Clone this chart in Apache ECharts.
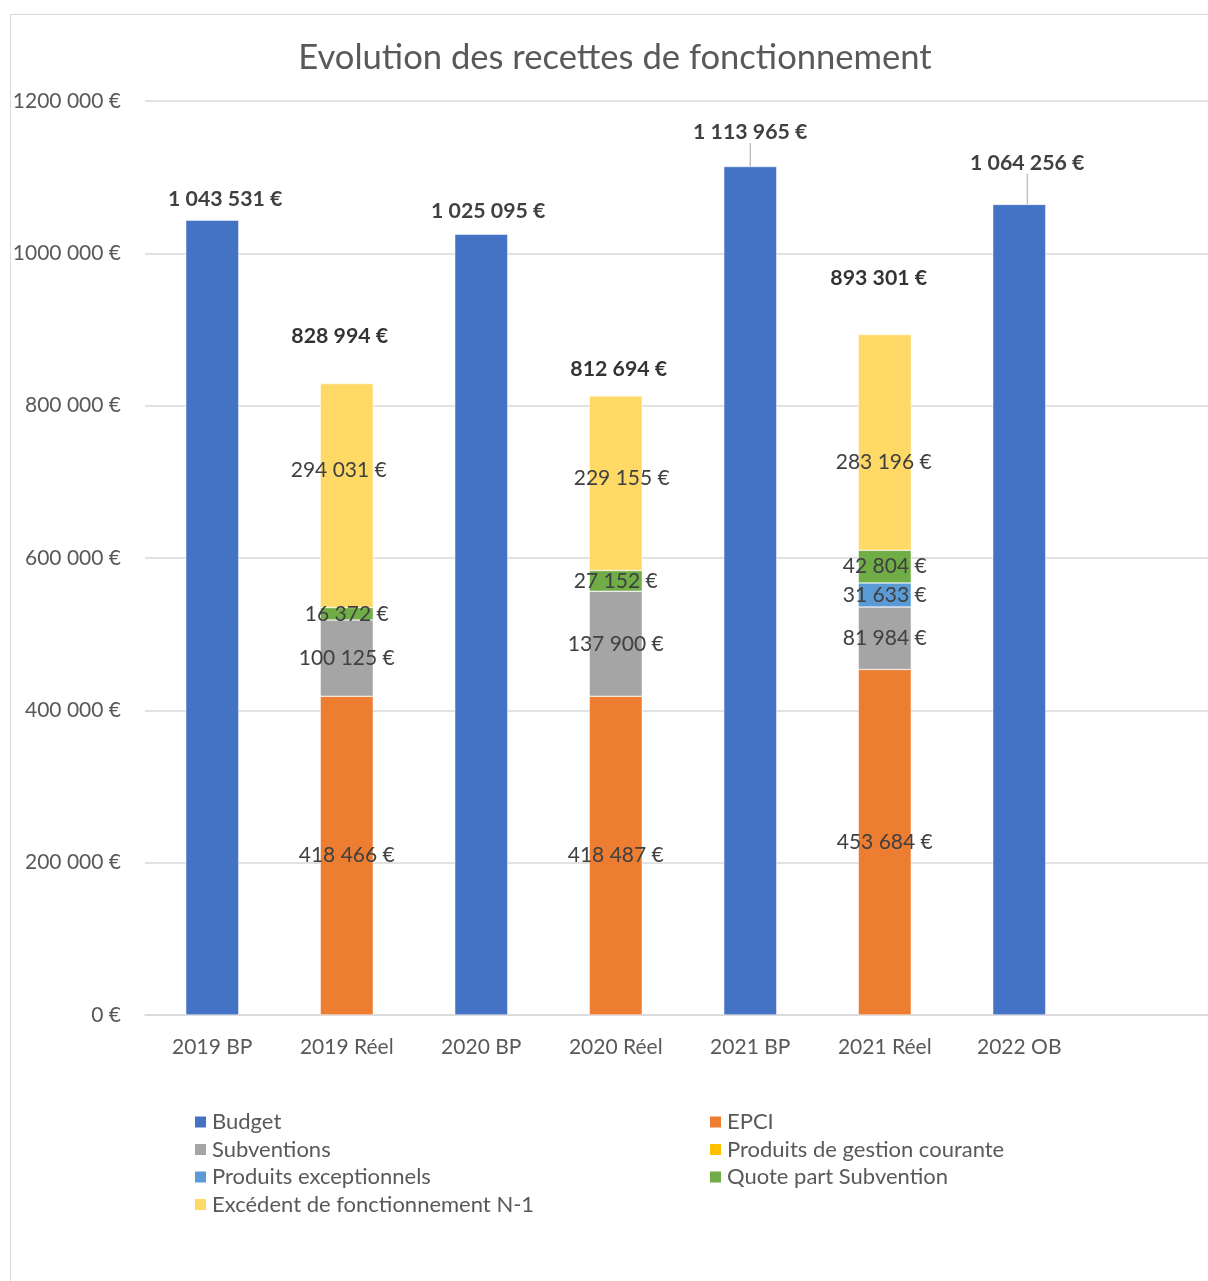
<!DOCTYPE html>
<html>
<head>
<meta charset="utf-8">
<script src="https://cdn.jsdelivr.net/npm/echarts@6/dist/echarts.min.js"></script>
<style>
  html, body { margin: 0; padding: 0; background: #fff; overflow: hidden; width: 1208px; height: 1281px; }
  #frame { position: absolute; left: 10px; top: 14px; width: 1400px; height: 1400px; border: 1px solid #D9D9D9; box-sizing: border-box; }
  #chart { position: absolute; left: 0; top: 0; width: 1230px; height: 1300px; }
</style>
</head>
<body>
<div id="frame"></div>
<div id="chart"></div>
<script>
// Categories (the last slot is left empty on purpose)
const categories = ['2019 BP', '2019 Réel', '2020 BP', '2020 Réel', '2021 BP', '2021 Réel', '2022 OB', ''];

// Values per series, in €
const budget          = [1043531, null, 1025095, null, 1113965, null, 1064256, null];
const epci            = [null, 418466, null, 418487, null, 453684, null, null];
const subventions     = [null, 100125, null, 137900, null, 81984, null, null];
const gestionCourante = [null, null, null, null, null, null, null, null];
const exceptionnels   = [null, null, null, null, null, 31633, null, null];
const quotePart       = [null, 16372, null, 27152, null, 42804, null, null];
const excedent        = [null, 294031, null, 229155, null, 283196, null, null];

// Label placement tweaks: [dx, rise above bar top]
const budgetLabelShift = [[13, 21], null, [7, 23], null, [0, 34], null, [8, 41], null];
const budgetLeader     = [false, false, false, false, true, false, true, false];
const totalLabelShift  = [null, [-7, 47], null, [3, 27], null, [-6, 56], null, null];
const excedentLabelShift = [null, [-8, -25], null, [6, -5], null, [-1, 20], null, null];

const FONT = 'Lato, "Open Sans", sans-serif';
const TXT = '#595959';
const LBL = '#404040';

function euro(v) {
  return String(Math.round(v)).replace(/\B(?=(\d{3})+(?!\d))/g, ' ') + ' €';
}
function axisEuro(v) {
  if (v < 1000) return v + ' €';
  return Math.floor(v / 1000) + ' ' + String(v % 1000).padStart(3, '0') + ' €';
}

const stackParts = [
  { name: 'EPCI', data: epci, color: '#ED7D31' },
  { name: 'Subventions', data: subventions, color: '#A5A5A5' },
  { name: 'Produits de gestion courante', data: gestionCourante, color: '#FFC000' },
  { name: 'Produits exceptionnels', data: exceptionnels, color: '#5B9BD5' },
  { name: 'Quote part Subvention', data: quotePart, color: '#70AD47' },
  { name: 'Excédent de fonctionnement N-1', data: excedent, color: '#FFD966' }
];

// Stack totals for the "Réel" columns
const totals = categories.map((c, i) => {
  let s = 0, any = false;
  stackParts.forEach(p => { if (p.data[i] != null) { s += p.data[i]; any = true; } });
  return any ? s : null;
});

const BAR_W = 53;

const series = [];
series.push({
  name: 'Budget',
  type: 'bar',
  stack: 'all',
  barWidth: BAR_W,
  itemStyle: { color: '#4472C4', borderColor: '#fff', borderWidth: 0.5 },
  data: budget.map((v, i) => v == null ? null : { value: v, labelLine: { show: budgetLeader[i] } }),
  label: {
    show: true,
    position: 'top',
    formatter: p => euro(p.value),
    color: LBL, fontFamily: FONT, fontSize: 21.3, fontWeight: 'bold'
  },
  labelLine: { show: false, lineStyle: { color: '#A6A6A6', width: 1 } },
  labelLayout: function (p) {
    const s = budgetLabelShift[p.dataIndex];
    if (!s) return {};
    return {
      x: p.rect.x + p.rect.width / 2 + s[0],
      y: p.rect.y - s[1],
      align: 'center',
      verticalAlign: 'middle'
    };
  }
});

stackParts.forEach(part => {
  const isExc = part.data === excedent;
  series.push({
    name: part.name,
    type: 'bar',
    stack: 'all',
    barWidth: BAR_W,
    itemStyle: { color: part.color, borderColor: '#fff', borderWidth: 0.5 },
    data: part.data.map((v, i) => {
      if (v == null) return null;
      const item = { value: v };
      if (isExc && excedentLabelShift[i]) item.label = { offset: excedentLabelShift[i] };
      return item;
    }),
    label: {
      show: true,
      position: 'inside',
      formatter: p => euro(p.value),
      color: LBL, fontFamily: FONT, fontSize: 21
    }
  });
});

// Totals written above each stacked column
series.push({
  name: 'Total',
  type: 'scatter',
  symbolSize: 1,
  itemStyle: { color: 'rgba(0,0,0,0)' },
  z: 10,
  silent: true,
  data: totals.map((v, i) => v == null ? null : {
    value: v,
    label: { offset: [totalLabelShift[i][0], -totalLabelShift[i][1]] }
  }),
  label: {
    show: true,
    position: 'inside',
    formatter: p => euro(p.value),
    color: '#000', fontFamily: FONT, fontSize: 21.3, fontWeight: 'bold'
  }
});

const legendCommon = {
  orient: 'vertical',
  icon: 'rect',
  itemWidth: 13,
  itemHeight: 13,
  itemGap: 3.5,
  top: 1105,
  selectedMode: false,
  textStyle: { color: TXT, fontFamily: FONT, fontSize: 22, lineHeight: 24, padding: [0, 0, 0, 0] }
};

const option = {
  animation: false,
  backgroundColor: 'transparent',
  title: {
    text: 'Evolution des recettes de fonctionnement',
    left: 'center',
    top: 32,
    textStyle: { color: TXT, fontFamily: FONT, fontSize: 34.6, fontWeight: 'normal', lineHeight: 42 }
  },
  legend: [
    Object.assign({}, legendCommon, { left: 188, data: ['Budget', 'Subventions', 'Produits exceptionnels', 'Excédent de fonctionnement N-1'] }),
    Object.assign({}, legendCommon, { left: 703, data: ['EPCI', 'Produits de gestion courante', 'Quote part Subvention'] })
  ],
  grid: { left: 145, right: 9, top: 101, bottom: 285, containLabel: false },
  xAxis: {
    type: 'category',
    data: categories,
    axisTick: { show: false },
    axisLine: { lineStyle: { color: '#D9D9D9', width: 1.5 } },
    axisLabel: { color: TXT, fontFamily: FONT, fontSize: 21, margin: 22, interval: 0 }
  },
  yAxis: {
    type: 'value',
    min: 0,
    max: 1200000,
    interval: 200000,
    axisLine: { show: false },
    axisTick: { show: false },
    splitLine: { lineStyle: { color: '#D9D9D9', width: 1.5 } },
    axisLabel: { color: TXT, fontFamily: FONT, fontSize: 21, margin: 24, formatter: axisEuro }
  },
  series: series
};

const chart = echarts.init(document.getElementById('chart'), null, { renderer: 'canvas' });
chart.setOption(option);
</script>
</body>
</html>
